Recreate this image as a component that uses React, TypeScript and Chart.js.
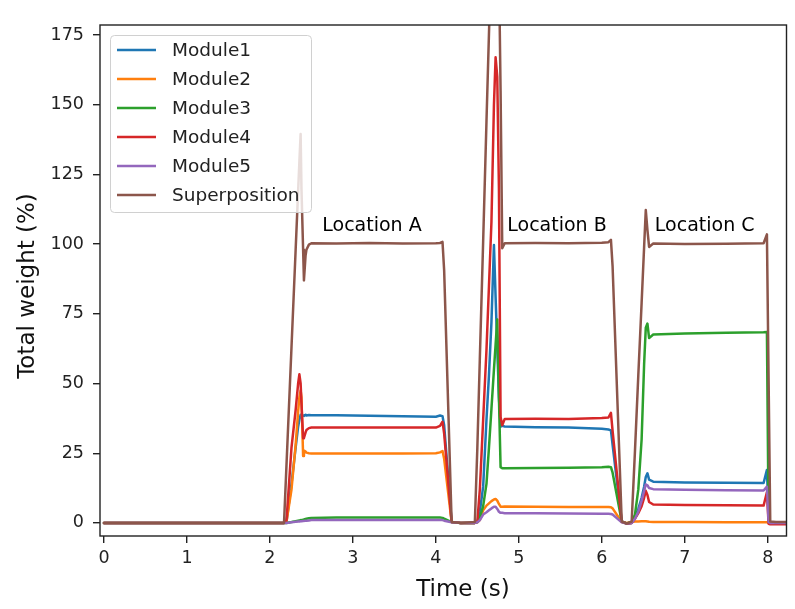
import React, { useEffect, useRef } from "react";
import { Chart, registerables } from "chart.js";

Chart.register(...registerables);

// ---------------- data ----------------
const timeSeconds = [
  0, 1.0, 2.0, 2.17, 2.2, 2.26, 2.31, 2.34, 2.355, 2.37, 2.38, 2.4, 2.41, 2.43, 2.44, 2.47, 2.5, 2.8, 3.2, 3.6,
  4.0, 4.05, 4.08, 4.1, 4.19, 4.3, 4.47, 4.5, 4.53, 4.57, 4.61, 4.64, 4.67, 4.7, 4.72, 4.74, 4.76, 4.78, 4.8, 4.83,
  5.2, 5.6, 6.0, 6.08, 6.11, 6.13, 6.24, 6.3, 6.36, 6.4, 6.44, 6.48, 6.51, 6.53, 6.55, 6.57, 6.62, 7.0, 7.5, 7.95,
  7.99, 8.01, 8.03, 8.1, 8.23,
];

const module1 = [
  0, 0, 0, 0, 0.5, 14, 27, 34.5, 37, 38.8, 38.2, 38.5, 38.4, 38.8, 38.5, 38.7, 38.6, 38.6, 38.4, 38.3,
  38.1, 38.5, 38.3, 35, 0.3, 0, 0, 0.3, 4, 13, 37, 53, 72, 99.7, 81, 63, 45, 34.5, 34.8, 34.6,
  34.3, 34.2, 33.8, 33.5, 33.2, 28, 0.5, -0.3, 0, 2, 5, 9, 13, 16.5, 17.8, 15.5, 14.8, 14.5, 14.4, 14.3,
  19, 3, 0, 0, 0,
];

const module2 = [
  0, 0, 0, 0, 0.5, 12, 28, 40, 45, 47.5, 45, 24, 26, 25.6, 25.2, 25.0, 24.9, 24.9, 24.9, 24.9,
  25.0, 25.3, 25.8, 23, 0.3, 0, 0, 0.2, 1, 4.5, 6.2, 7, 7.8, 8.4, 8.6, 8, 6.8, 5.8, 5.8, 5.9,
  5.8, 5.7, 5.7, 5.7, 5.6, 5.2, 0.3, 0, 0.3, 0.5, 0.5, 0.6, 0.6, 0.6, 0.5, 0.4, 0.3, 0.3, 0.2, 0.2,
  0.2, 0, 0, 0, 0,
];

const module3 = [
  0, 0, 0, 0, 0, 0.3, 0.6, 0.8, 0.9, 1.0, 1.0, 1.1, 1.2, 1.4, 1.5, 1.7, 1.8, 1.9, 1.9, 1.9,
  1.9, 1.9, 1.8, 1.5, 0.3, 0, 0, 0.3, 2, 6, 14, 27, 41, 55, 64, 73, 45, 20, 19.6, 19.6,
  19.7, 19.8, 20.0, 20.1, 20.0, 18, 0.5, -0.2, 0.3, 3, 12, 30, 57, 70, 71.5, 66.3, 67.6, 67.9, 68.2, 68.4,
  68.5, 0.5, 0, 0, 0,
];

const module4 = [
  0, 0, 0, 0, 1, 27, 40.5, 50, 53.3, 50, 43, 30.4, 30.5, 32.5, 33.3, 34.0, 34.2, 34.2, 34.2, 34.2,
  34.2, 34.8, 36.3, 32, 0.3, 0, 0, 0.5, 12, 37, 62, 85, 108, 150, 167, 160, 120, 38, 35, 37.3,
  37.4, 37.3, 37.6, 37.8, 39.5, 33, 0.5, -0.3, 0, 1.5, 3.5, 6, 9, 11.5, 10, 7.5, 6.6, 6.4, 6.3, 6.2,
  11, -0.3, -0.5, -0.5, -0.5,
];

const module5 = [
  0, 0, 0, 0, 0, 0.2, 0.4, 0.5, 0.5, 0.6, 0.6, 0.7, 0.7, 0.8, 0.8, 0.9, 1.0, 1.0, 1.0, 1.0,
  1.0, 1.0, 1.0, 0.8, 0.2, 0, 0, 0.2, 1, 3, 3.8, 4.5, 5.2, 5.8, 5.8, 5, 4, 3.6, 3.6, 3.5,
  3.5, 3.4, 3.3, 3.3, 3.2, 3, 0.2, -0.2, 0, 1.5, 4, 8, 11.5, 13.8, 13.5, 12.5, 12.1, 11.9, 11.7, 11.6,
  13, 0.3, 0, 0, 0,
];

const superposition = [
  0, 0, 0, 0, 21, 63, 98, 119, 129.5, 139.5, 120, 98, 87, 96, 98, 99.8, 100.3, 100.2, 100.4, 100.2,
  100.3, 100.4, 100.8, 90.5, 0.3, 0, 0.3, 27, 59, 101, 144, 175.5, 207, 238, 255, 233, 200, 155, 98.5, 100.3,
  100.4, 100.3, 100.5, 100.7, 101.5, 92, 0.5, -0.3, 0.5, 26, 53, 79, 99, 112.2, 105, 99, 100.2, 100, 100.1, 100.3,
  103.5, 52, 0.5, 0.3, 0.3,
];

const seriesLabels = ["Module1", "Module2", "Module3", "Module4", "Module5", "Superposition"];
const seriesValues = [module1, module2, module3, module4, module5, superposition];
const seriesColors = ["#1f77b4", "#ff7f0e", "#2ca02c", "#d62728", "#9467bd", "#8c564b"];

const xTickValues = [0, 1, 2, 3, 4, 5, 6, 7, 8];
const yTickValues = [0, 25, 50, 75, 100, 125, 150, 175];
const xRange = [-0.048, 8.226];
const yRange = [-4.7, 178.6];

const locationLabels = ["Location A", "Location B", "Location C"];
const locationTimes = [3.23, 5.46, 7.24];
const locationHeights = [106.5, 106.5, 106.5];

const xTitle = "Time (s)";
const yTitle = "Total weight (%)";

const FONT = '"DejaVu Sans", sans-serif';

const overlayPlugin = {
  id: "overlay",
  afterDraw(chart: any) {
    const { ctx, chartArea } = chart;
    const xs = chart.scales.x;
    const ys = chart.scales.y;
    ctx.save();

    // location annotations
    ctx.fillStyle = "#000";
    ctx.font = `19px ${FONT}`;
    ctx.textAlign = "center";
    ctx.textBaseline = "middle";
    locationLabels.forEach((txt, i) => {
      ctx.fillText(txt, xs.getPixelForValue(locationTimes[i]), ys.getPixelForValue(locationHeights[i]));
    });

    // legend
    const lx = 110.5, ly = 35.5, lw = 201, lh = 177, r = 4;
    ctx.beginPath();
    ctx.moveTo(lx + r, ly);
    ctx.lineTo(lx + lw - r, ly);
    ctx.arcTo(lx + lw, ly, lx + lw, ly + r, r);
    ctx.lineTo(lx + lw, ly + lh - r);
    ctx.arcTo(lx + lw, ly + lh, lx + lw - r, ly + lh, r);
    ctx.lineTo(lx + r, ly + lh);
    ctx.arcTo(lx, ly + lh, lx, ly + lh - r, r);
    ctx.lineTo(lx, ly + r);
    ctx.arcTo(lx, ly, lx + r, ly, r);
    ctx.closePath();
    ctx.fillStyle = "rgba(255,255,255,0.8)";
    ctx.fill();
    ctx.strokeStyle = "#d0d0d0";
    ctx.lineWidth = 1;
    ctx.stroke();

    ctx.font = `18.5px ${FONT}`;
    ctx.textAlign = "left";
    ctx.textBaseline = "middle";
    seriesLabels.forEach((lab, i) => {
      const y = 50 + 29 * i;
      ctx.strokeStyle = seriesColors[i];
      ctx.lineWidth = 2.5;
      ctx.beginPath();
      ctx.moveTo(117, y);
      ctx.lineTo(156, y);
      ctx.stroke();
      ctx.fillStyle = "#222";
      ctx.fillText(lab, 172, y + 1);
    });

    // spines
    ctx.strokeStyle = "#222";
    ctx.lineWidth = 1.4;
    ctx.strokeRect(chartArea.left, chartArea.top, chartArea.right - chartArea.left, chartArea.bottom - chartArea.top);

    // axis titles
    ctx.fillStyle = "#111";
    ctx.font = `23px ${FONT}`;
    ctx.textAlign = "center";
    ctx.textBaseline = "middle";
    ctx.fillText(xTitle, 463, 590);
    ctx.translate(28, 286);
    ctx.rotate(-Math.PI / 2);
    ctx.fillText(yTitle, 0, 0);

    ctx.restore();
  },
};

export default function App() {
  const canvasRef = useRef<HTMLCanvasElement | null>(null);

  useEffect(() => {
    const canvas = canvasRef.current;
    if (!canvas) return;
    const datasets = seriesLabels.map((label, i) => ({
      label,
      data: timeSeconds.map((t, j) => ({ x: t, y: seriesValues[i][j] })),
      borderColor: seriesColors[i],
      backgroundColor: seriesColors[i],
      borderWidth: 2.5,
      pointRadius: 0,
      tension: 0,
      fill: false,
      borderJoinStyle: "round" as const,
      borderCapStyle: "round" as const,
      order: seriesLabels.length - i,
    }));

    const chart = new Chart(canvas, {
      type: "line",
      data: { datasets },
      options: {
        animation: false,
        responsive: false,
        devicePixelRatio: 1,
        layout: { padding: { top: 25, right: 8.5, left: 0, bottom: 0 } },
        plugins: { legend: { display: false }, tooltip: { enabled: false } },
        scales: {
          x: {
            type: "linear",
            min: xRange[0],
            max: xRange[1],
            afterBuildTicks: (scale: any) => {
              scale.ticks = xTickValues.map((v) => ({ value: v }));
            },
            afterFit: (scale: any) => {
              scale.height = 73;
            },
            ticks: {
              includeBounds: false,
              autoSkip: false,
              maxRotation: 0,
              padding: 5,
              color: "#222",
              font: { family: FONT, size: 17.5 },
              callback: (v: any) => String(v),
            },
            grid: { display: true, drawOnChartArea: false, drawTicks: true, tickLength: 7, color: "#222", lineWidth: 1.4 },
            border: { display: false },
          },
          y: {
            type: "linear",
            min: yRange[0],
            max: yRange[1],
            afterBuildTicks: (scale: any) => {
              scale.ticks = yTickValues.map((v) => ({ value: v }));
            },
            afterFit: (scale: any) => {
              scale.width = 100;
            },
            ticks: {
              includeBounds: false,
              autoSkip: false,
              padding: 9,
              color: "#222",
              font: { family: FONT, size: 17.5 },
              callback: (v: any) => String(v),
            },
            grid: { display: true, drawOnChartArea: false, drawTicks: true, tickLength: 7, color: "#222", lineWidth: 1.4 },
            border: { display: false },
          },
        },
      },
      plugins: [overlayPlugin],
    });
    return () => chart.destroy();
  }, []);

  return (
    <div style={{ position: "absolute", left: 0, top: 0, width: 795, height: 609, background: "#fff" }}>
      <canvas ref={canvasRef} width={795} height={609} style={{ display: "block" }} />
    </div>
  );
}
